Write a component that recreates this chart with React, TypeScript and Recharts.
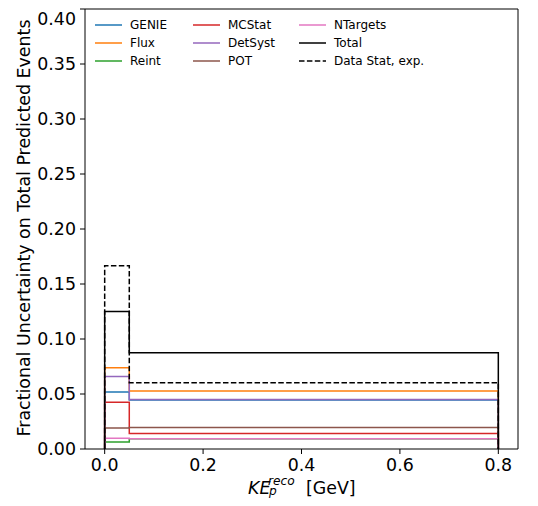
import React from "react";
import { LineChart, Line, XAxis, YAxis, ReferenceLine, Legend } from "recharts";

const EDGES = [0, 0.05, 0.8];
const GENIE = [0.0518, 0.0446];
const FLUX = [0.0739, 0.0527];
const REINT = [0.0064, 0.0094];
const MCSTAT = [0.0424, 0.0142];
const DETSYST = [0.066, 0.045];
const POT = [0.019, 0.0195];
const NTARGETS = [0.0097, 0.0094];
const TOTAL = [0.125, 0.0875];
const DATASTAT = [0.1667, 0.0603];

const X_TICKS = [0, 0.2, 0.4, 0.6, 0.8];
const Y_TICKS = [0, 0.05, 0.1, 0.15, 0.2, 0.25, 0.3, 0.35, 0.4];

const FONT = "DejaVu Sans";

type S = { name: string; values: number[]; color: string; dash?: string; width: number };

const SERIES: S[] = [
  { name: "GENIE", values: GENIE, color: "#1f77b4", width: 1.5 },
  { name: "Flux", values: FLUX, color: "#ff7f0e", width: 1.5 },
  { name: "Reint", values: REINT, color: "#2ca02c", width: 1.5 },
  { name: "MCStat", values: MCSTAT, color: "#d62728", width: 1.5 },
  { name: "DetSyst", values: DETSYST, color: "#9467bd", width: 1.5 },
  { name: "POT", values: POT, color: "#8c564b", width: 1.5 },
  { name: "NTargets", values: NTARGETS, color: "#e377c2", width: 1.5 },
  { name: "Total", values: TOTAL, color: "#000000", width: 1.5 },
  { name: "Data Stat, exp.", values: DATASTAT, color: "#000000", dash: "5.5 2.4", width: 1.5 },
];

function stepPoints(values: number[]) {
  const pts: { x: number; y: number }[] = [{ x: EDGES[0], y: 0 }];
  values.forEach((v, i) => {
    pts.push({ x: EDGES[i], y: v });
    pts.push({ x: EDGES[i + 1], y: v });
  });
  pts.push({ x: EDGES[EDGES.length - 1], y: 0 });
  return pts;
}

const LEGEND_COLS = [
  { lineX: 87, textX: 122 },
  { lineX: 185, textX: 220 },
  { lineX: 291, textX: 326 },
];
const LEGEND_ROWS = [17, 35, 53];

function LegendBox() {
  return (
    <svg width={530} height={70} style={{ display: "block" }}>
      {SERIES.map((s, i) => {
        const col = LEGEND_COLS[Math.floor(i / 3)];
        const cy = LEGEND_ROWS[i % 3];
        return (
          <g key={s.name}>
            <line
              x1={col.lineX}
              x2={col.lineX + 27}
              y1={cy}
              y2={cy}
              stroke={s.color}
              strokeWidth={1.5}
              strokeDasharray={s.dash}
            />
            <text x={col.textX} y={cy + 4.3} fontSize={12} fontFamily={FONT} fill="#000">
              {s.name}
            </text>
          </g>
        );
      })}
    </svg>
  );
}

function XLabel(props: any) {
  const vb = props.viewBox || { x: 77, y: 441, width: 433 };
  const cx = vb.x + vb.width / 2;
  const y0 = vb.y;
  return (
    <text fontFamily={FONT} fill="#000" fontSize={17.4}>
      <tspan x={cx - 53.5} y={y0 + 45} fontStyle="italic">KE</tspan>
      <tspan x={cx - 33.5} y={y0 + 35.5} fontSize={12.2} fontStyle="italic">reco</tspan>
      <tspan x={cx - 32.5} y={y0 + 46} fontSize={12.2} fontStyle="italic">p</tspan>
      <tspan x={cx + 4.5} y={y0 + 45}>[GeV]</tspan>
    </text>
  );
}

function YLabel(props: any) {
  const vb = props.viewBox || { x: 0, y: 1, width: 77, height: 440 };
  const x = 21.7;
  const y = vb.y + vb.height / 2 - 1;
  return (
    <text
      x={x}
      y={y}
      transform={`rotate(-90, ${x}, ${y})`}
      textAnchor="middle"
      fontSize={17.4}
      fontFamily={FONT}
      fill="#000"
    >
      Fractional Uncertainty on Total Predicted Events
    </text>
  );
}

export default function App() {
  return (
    <LineChart
      width={530}
      height={498}
      margin={{ top: 1, right: 20, bottom: 0, left: 0 }}
      style={{ fontFamily: FONT }}
    >
      <XAxis
        type="number"
        dataKey="x"
        domain={[-0.04, 0.84]}
        allowDataOverflow
        ticks={X_TICKS}
        tickFormatter={(v: number) => v.toFixed(1)}
        height={57}
        tickSize={5}
        tickMargin={5}
        stroke="#000"
        tick={{ fontSize: 17.4, fill: "#000", fontFamily: FONT }}
        label={{ content: XLabel }}
      />
      <YAxis
        type="number"
        domain={[0, 0.4]}
        allowDataOverflow
        ticks={Y_TICKS}
        tickFormatter={(v: number) => v.toFixed(2)}
        width={77}
        tickSize={5}
        tickMargin={4}
        stroke="#000"
        tick={{ fontSize: 17.4, fill: "#000", fontFamily: FONT }}
        label={{ content: YLabel }}
      />
      <ReferenceLine y={0.4} stroke="#000" strokeWidth={1} />
      <ReferenceLine x={0.84} stroke="#000" strokeWidth={1} />
      {SERIES.map((s) => (
        <Line
          key={s.name}
          data={stepPoints(s.values)}
          dataKey="y"
          type="linear"
          stroke={s.color}
          strokeWidth={s.width}
          strokeDasharray={s.dash}
          dot={false}
          activeDot={false}
          isAnimationActive={false}
          strokeLinejoin="miter"
        />
      ))}
      <Legend
        layout="vertical"
        align="center"
        verticalAlign="middle"
        wrapperStyle={{ position: "absolute", top: 0, left: 0, width: 530, height: 70 }}
        content={() => <LegendBox />}
      />
    </LineChart>
  );
}
